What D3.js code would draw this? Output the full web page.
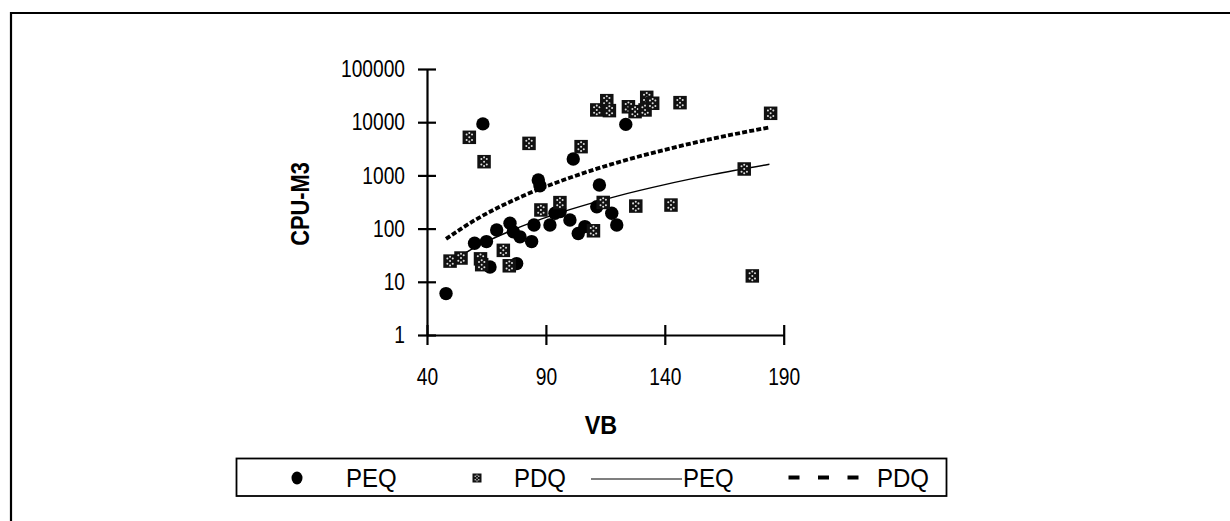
<!DOCTYPE html>
<html>
<head>
<meta charset="utf-8">
<script src="https://cdn.jsdelivr.net/npm/d3@7"></script>
<style>
  body { margin: 0; background: #fff; }
  text { font-family: "Liberation Sans", Arial, sans-serif; fill: #000; }
</style>
</head>
<body>
<svg id="chart" width="1230" height="521"></svg>
<script>
// PEQ points [VB, CPU-M3]
const peqVB  = [48, 63.5, 60, 65, 66.5, 69.3, 74.9, 76.3, 79.1, 84, 77.7, 85, 86.8, 87.5, 91.7, 93.8, 96, 100.1, 101.5, 103.6, 106.4, 111.4, 112.5, 117.7, 119.8, 123.6]
const peqCPU = [6, 9300, 53, 57, 19, 94, 126, 87, 70, 57, 22, 117, 820, 640, 117, 194, 210, 145, 2040, 81, 109, 258, 660, 194, 117, 9100]

// PDQ points [VB, CPU-M3]
const pdqVB  = [49.7, 54.3, 57.8, 62.5, 63, 64, 72.1, 74.6, 82.9, 87.9, 95.9, 104.8, 110, 111.4, 115.6, 116.7, 114.1, 124.7, 127.5, 131.7, 132.4, 134.9, 127.8, 142.6, 146.4, 173.4, 176.8, 184.5]
const pdqCPU = [24.5, 28, 5200, 27, 21, 1810, 39, 20, 4000, 224, 308, 3470, 91, 17000, 25400, 16500, 310, 19500, 15800, 17000, 29300, 22700, 265, 277, 23300, 1320, 12.9, 14700]

// trend lines
const trendVB     = [48, 60, 80, 100, 120, 140, 160, 184]
const trendPEQ    = [21, 44, 111, 227, 409, 671, 1032, 1618]
const trendPDQ    = [64, 143, 404, 901, 1743, 3030, 4890, 7990]

const xTicks = [40, 90, 140, 190]
const yTicks = [1, 10, 100, 1000, 10000, 100000]
const legendLabels = ['PEQ', 'PDQ', 'PEQ', 'PDQ']

const svg = d3.select('#chart')

const x = d3.scaleLinear().domain([40, 190]).range([427, 783.7])
const y = d3.scaleLog().domain([1, 100000]).range([335, 69])

// squeeze text horizontally (the original font is a narrow one)
function narrow(sel, k, rot) {
  sel.each(function() {
    const t = d3.select(this)
    const tx = +t.attr('x') || 0, ty = +t.attr('y') || 0
    t.attr('x', 0).attr('y', 0)
      .attr('transform', `translate(${tx},${ty})${rot ? ' rotate(' + rot + ')' : ''} scale(${k},1)`)
  })
}

// outer frame (top and left edges only)
svg.append('path')
  .attr('d', 'M11,521 L11,13 L1230,13')
  .attr('fill', 'none').attr('stroke', '#000').attr('stroke-width', 2.2)

function squareMarker(g, s) {
  g.append('rect').attr('x', -s/2).attr('y', -s/2).attr('width', s).attr('height', s).attr('fill', '#111')
  const d = s * 0.2
  const dots = [[-d, -d], [d, -d], [0, 0], [-d, d], [d, d], [0, -d*1.6], [0, d*1.6]]
  g.selectAll('circle').data(dots).enter().append('circle')
    .attr('cx', p => p[0]).attr('cy', p => p[1]).attr('r', s * 0.06 + 0.2).attr('fill', '#ddd')
}

// axes
const yAxis = svg.append('g').attr('transform', 'translate(427,0)')
  .call(d3.axisLeft(y).tickValues(yTicks).tickFormat(d3.format('d')).tickSize(9).tickSizeOuter(0).tickPadding(13))
yAxis.selectAll('.tick line').attr('x1', 9)
const xAxis = svg.append('g').attr('transform', 'translate(0,335)')
  .call(d3.axisBottom(x).tickValues(xTicks).tickSize(10).tickSizeOuter(0).tickPadding(23))
xAxis.selectAll('.tick line').attr('y1', -10)
svg.selectAll('.domain, .tick line').attr('stroke', '#000').attr('stroke-width', 2.2)
svg.selectAll('.tick text').attr('font-size', 24)
  .attr('font-family', '"Liberation Sans", Arial, sans-serif')
  .call(narrow, 0.8)

// axis titles
svg.append('text').attr('x', 601).attr('y', 434).attr('text-anchor', 'middle')
  .attr('font-size', 26).attr('font-weight', 'bold').text('VB')
  .call(narrow, 0.9)
svg.append('text').attr('x', 309).attr('y', 204).attr('text-anchor', 'middle')
  .attr('font-size', 26).attr('font-weight', 'bold').text('CPU-M3')
  .call(narrow, 0.84, -90)

// trend lines
const line = d3.line().x(d => x(d[0])).y(d => y(d[1])).curve(d3.curveMonotoneX)
svg.append('path').datum(d3.zip(trendVB, trendPEQ)).attr('d', line)
  .attr('fill', 'none').attr('stroke', '#000').attr('stroke-width', 1.4)

// PEQ circles
svg.append('g').selectAll('circle').data(d3.zip(peqVB, peqCPU)).enter().append('circle')
  .attr('cx', d => x(d[0])).attr('cy', d => y(d[1])).attr('r', 6.7).attr('fill', '#000')

svg.append('path').datum(d3.zip(trendVB, trendPDQ)).attr('d', line)
  .attr('fill', 'none').attr('stroke', '#000').attr('stroke-width', 3.8).attr('stroke-dasharray', '5,2.2')

// PDQ squares
svg.append('g').selectAll('g').data(d3.zip(pdqVB, pdqCPU)).enter().append('g')
  .attr('transform', d => `translate(${x(d[0])},${y(d[1])})`)
  .each(function() { squareMarker(d3.select(this), 13.5) })

// legend
const lg = svg.append('g')
lg.append('rect').attr('x', 236.5).attr('y', 458.5).attr('width', 710).attr('height', 37.5)
  .attr('fill', 'none').attr('stroke', '#000').attr('stroke-width', 1.8)
lg.append('ellipse').attr('cx', 297).attr('cy', 478).attr('rx', 5.5).attr('ry', 6.5).attr('fill', '#000')
squareMarker(lg.append('g').attr('transform', 'translate(477,478)'), 9)
lg.append('line').attr('x1', 591).attr('x2', 682).attr('y1', 479).attr('y2', 479)
  .attr('stroke', '#000').attr('stroke-width', 1.2)
lg.append('line').attr('x1', 788.5).attr('x2', 859).attr('y1', 477.5).attr('y2', 477.5)
  .attr('stroke', '#000').attr('stroke-width', 4).attr('stroke-dasharray', '11,18.5')
const legendX = [346, 514, 683, 877]
lg.selectAll('text.lab').data(legendLabels).enter().append('text').attr('class', 'lab')
  .attr('x', (d, i) => legendX[i]).attr('y', 487).attr('font-size', 25).text(d => d)
  .call(narrow, 0.96)
</script>
</body>
</html>
